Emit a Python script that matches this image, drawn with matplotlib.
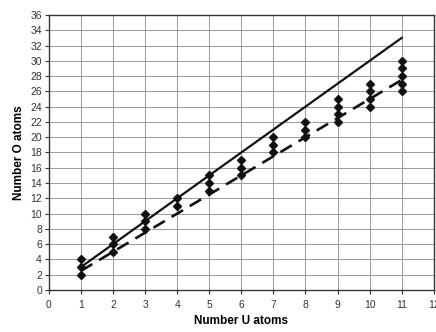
import matplotlib
matplotlib.use('Agg')
import matplotlib.pyplot as plt
import numpy as np

plt.rcParams['font.family'] = ['Liberation Sans', 'DejaVu Sans']

# measured O counts for each U count
u_atoms = [1, 1, 1, 2, 2, 2, 3, 3, 3, 4, 4, 5, 5, 5, 6, 6, 6,
           7, 7, 7, 8, 8, 8, 9, 9, 9, 9, 10, 10, 10, 10,
           11, 11, 11, 11, 11]
o_atoms = [2, 3, 4, 5, 6, 7, 8, 9, 10, 11, 12, 13, 14, 15, 15, 16, 17,
           18, 19, 20, 20, 21, 22, 22, 23, 24, 25, 24, 25, 26, 27,
           26, 27, 28, 29, 30]

# reference lines, UO3 (solid) and UO2.5 (dashed)
line_x = [1, 11]
solid_y = [3, 33]
dashed_y = [2.5, 27.5]

fig = plt.figure(figsize=(4.36, 3.32), dpi=100)
ax = fig.add_axes([0.112, 0.1265, 0.883, 0.8285])

ax.plot(line_x, solid_y, color='#111111', lw=1.6, zorder=3)
ax.plot(line_x, dashed_y, color='#111111', lw=1.9, ls=(0, (5, 3)), zorder=3)
ax.plot(u_atoms, o_atoms, 'D', color='#111111', ms=4.5, zorder=4)

ax.set_xlim(0, 12)
ax.set_ylim(0, 36)
ax.set_xticks(range(0, 13))
ax.set_yticks(range(0, 37, 2))
ax.grid(True, color='#9a9a9a', lw=0.7)
ax.set_axisbelow(True)

ax.tick_params(axis='x', length=3, width=0.8, pad=4, labelsize=7.5, colors='#333333')
ax.tick_params(axis='y', length=3, width=0.8, pad=2, labelsize=7.5, colors='#333333')
for s in ax.spines.values():
    s.set_color('#333333')
    s.set_linewidth(1.0)

ax.set_xlabel('Number U atoms', fontsize=8.5, fontweight='bold', labelpad=4)
ax.set_ylabel('Number O atoms', fontsize=8.5, fontweight='bold', labelpad=4)

fig.savefig('out.png', dpi=100)
